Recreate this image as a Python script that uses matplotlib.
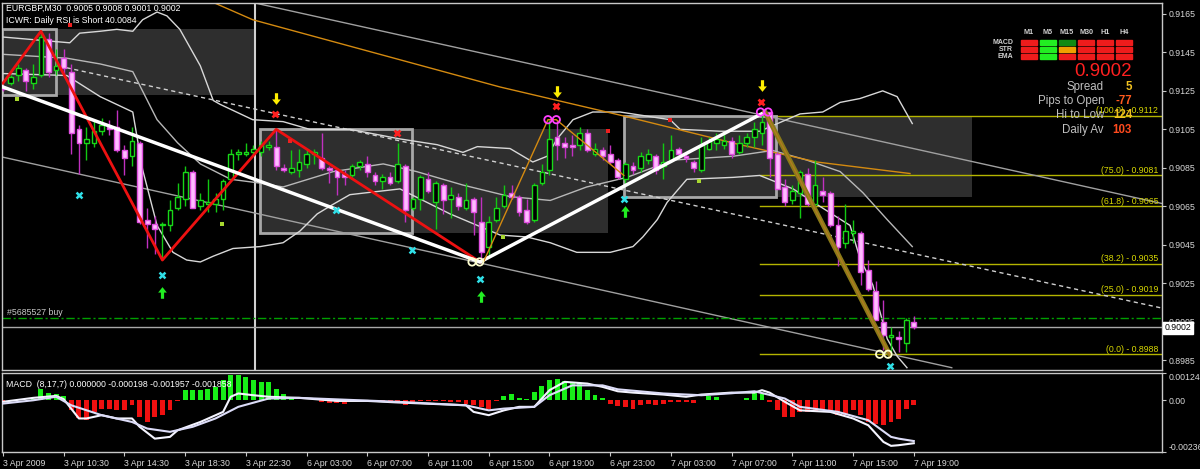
import numpy as np
import matplotlib
matplotlib.use('Agg')
import matplotlib.pyplot as plt
from matplotlib.patches import Rectangle
from matplotlib.path import Path

plt.rcParams['font.family'] = ['Liberation Sans', 'DejaVu Sans']

# ---- EURGBP M30 candles (bar index 0 = 3 Apr 06:30) ----
opens = [0.9127,0.9129,0.9133,0.9136,0.9129,0.9133,0.9152,0.9136,0.9142,0.9135,
         0.9105,0.9098,0.9098,0.9104,0.9106,0.9106,0.9094,0.9091,0.9098,0.9058,
         0.9056,0.9055,0.9055,0.9064,0.9069,0.9083,0.9065,0.9066,0.9066,0.9069,
         0.9079,0.9092,0.9092,0.9093,0.9093,0.9096,0.9096,0.9085,0.9083,0.9084,
         0.9087,0.9092,0.9090,0.9085,0.9084,0.9082,0.9081,0.9086,0.9087,0.9081,
         0.9078,0.9080,0.9078,0.9086,0.9064,0.9069,0.9079,0.9067,0.9076,0.9069,
         0.9070,0.9064,0.9069,0.9057,0.9044,0.9058,0.9065,0.9072,0.9070,0.9063,
         0.9058,0.9077,0.9084,0.9101,0.9098,0.9097,0.9097,0.9103,0.9092,0.9094,
         0.9092,0.9089,0.9079,0.9086,0.9085,0.9089,0.9091,0.9086,0.9089,0.9095,
         0.9091,0.9088,0.9084,0.9095,0.9098,0.9097,0.9099,0.9093,0.9098,0.9101,
         0.9103,0.9114,0.9092,0.9075,0.9068,0.9072,0.9082,0.9066,0.9073,0.9072,
         0.9055,0.9046,0.9051,0.9051,0.9032,0.9021,0.9005,0.8997,0.8997,0.8994,
         0.9005]
highs = [0.9128,0.9133,0.9139,0.9137,0.9139,0.9156,0.9155,0.9147,0.9147,0.9139,
         0.9107,0.9106,0.9110,0.9111,0.9110,0.9115,0.9097,0.9106,0.9099,0.9064,
         0.9060,0.9057,0.9068,0.9077,0.9086,0.9084,0.9072,0.9079,0.9072,0.9079,
         0.9095,0.9095,0.9098,0.9097,0.9099,0.9099,0.9105,0.9087,0.9094,0.9095,
         0.9094,0.9095,0.9103,0.9086,0.9085,0.9084,0.9087,0.9089,0.9091,0.9083,
         0.9082,0.9083,0.9098,0.9087,0.9070,0.9081,0.9083,0.9078,0.9077,0.9075,
         0.9072,0.9077,0.9070,0.9070,0.9060,0.9070,0.9076,0.9076,0.9071,0.9069,
         0.9077,0.9087,0.9110,0.9110,0.9101,0.9102,0.9106,0.9105,0.9098,0.9096,
         0.9097,0.9090,0.9088,0.9088,0.9093,0.9095,0.9092,0.9098,0.9102,0.9096,
         0.9093,0.9089,0.9101,0.9101,0.9103,0.9103,0.9101,0.9102,0.9103,0.9109,
         0.9114,0.9114,0.9093,0.9079,0.9076,0.9084,0.9085,0.9089,0.9080,0.9073,
         0.9060,0.9066,0.9058,0.9052,0.9037,0.9026,0.9016,0.9002,0.9000,0.9007,
         0.9008]
lows = [0.9125,0.9128,0.9130,0.9125,0.9126,0.9132,0.9132,0.9133,0.9134,0.9092,
        0.9082,0.9089,0.9096,0.9102,0.9102,0.9093,0.9081,0.9086,0.9056,0.9043,
        0.9040,0.9037,0.9052,0.9063,0.9065,0.9064,0.9063,0.9062,0.9062,0.9063,
        0.9078,0.9089,0.9091,0.9091,0.9091,0.9094,0.9084,0.9083,0.9082,0.9080,
        0.9085,0.9087,0.9084,0.9077,0.9071,0.9076,0.9080,0.9084,0.9080,0.9076,
        0.9074,0.9076,0.9077,0.9057,0.9063,0.9063,0.9072,0.9053,0.9061,0.9059,
        0.9063,0.9063,0.9050,0.9036,0.9039,0.9057,0.9064,0.9069,0.9060,0.9056,
        0.9057,0.9076,0.9081,0.9089,0.9090,0.9091,0.9094,0.9093,0.9091,0.9089,
        0.9087,0.9079,0.9077,0.9082,0.9083,0.9087,0.9082,0.9079,0.9088,0.9090,
        0.9088,0.9083,0.9083,0.9094,0.9094,0.9095,0.9090,0.9092,0.9096,0.9096,
        0.9097,0.9080,0.9074,0.9065,0.9066,0.9059,0.9065,0.9063,0.9067,0.9054,
        0.9034,0.9043,0.9046,0.9024,0.9021,0.9006,0.8990,0.8988,0.8989,0.8989,
        0.9001]
closes = [0.9126,0.9132,0.9137,0.9130,0.9132,0.9153,0.9135,0.9138,0.9137,0.9103,
          0.9098,0.9100,0.9104,0.9107,0.9105,0.9094,0.9090,0.9099,0.9057,0.9056,
          0.9053,0.9056,0.9063,0.9070,0.9083,0.9064,0.9068,0.9067,0.9069,0.9078,
          0.9092,0.9093,0.9093,0.9095,0.9097,0.9097,0.9086,0.9084,0.9085,0.9088,
          0.9092,0.9093,0.9085,0.9084,0.9080,0.9080,0.9086,0.9088,0.9083,0.9078,
          0.9080,0.9077,0.9087,0.9063,0.9069,0.9080,0.9073,0.9077,0.9068,0.9071,
          0.9065,0.9068,0.9062,0.9041,0.9057,0.9064,0.9071,0.9070,0.9062,0.9057,
          0.9076,0.9083,0.9100,0.9097,0.9096,0.9096,0.9103,0.9094,0.9095,0.9091,
          0.9088,0.9080,0.9087,0.9084,0.9091,0.9092,0.9084,0.9088,0.9094,0.9092,
          0.9090,0.9085,0.9097,0.9099,0.9100,0.9099,0.9092,0.9098,0.9101,0.9105,
          0.9109,0.9090,0.9074,0.9067,0.9073,0.9083,0.9066,0.9076,0.9071,0.9055,
          0.9044,0.9052,0.9052,0.9031,0.9022,0.9006,0.8998,0.8998,0.8996,0.9006,
          0.9002]

time_labels = ['3 Apr 2009', '3 Apr 10:30', '3 Apr 14:30', '3 Apr 18:30', '3 Apr 22:30',
               '6 Apr 03:00', '6 Apr 07:00', '6 Apr 11:00', '6 Apr 15:00', '6 Apr 19:00',
               '6 Apr 23:00', '7 Apr 03:00', '7 Apr 07:00', '7 Apr 11:00', '7 Apr 15:00',
               '7 Apr 19:00']
price_ticks = [0.9165, 0.9145, 0.9125, 0.9105, 0.9085, 0.9065, 0.9045, 0.9025, 0.9005, 0.8985]

# Bollinger bands (bar, price)
bb_up_x = [0, 8.8, 10.1, 12.8, 15.0, 17.1, 18.4, 20.3, 21.6, 23.3, 26.0, 27.7, 28.6, 32.9, 36.9, 40.4,
           45.7, 52.3, 57.2, 60.6, 62.5, 66.8, 69.8, 71.7, 73.0, 75.1, 77.7, 81.3, 87.9, 89.2, 94.5,
           99.7, 105.0, 108.0, 110.3, 112.9, 115.9, 117.8, 119.8]
bb_up_y = [0.9153, 0.9150, 0.9155, 0.9156, 0.9157, 0.9156, 0.9162, 0.9166, 0.9164, 0.9157, 0.9138, 0.9120,
           0.9118, 0.9110, 0.9109, 0.9105, 0.9105, 0.9100, 0.9097, 0.9093, 0.9096, 0.9095, 0.9088,
           0.9091, 0.9100, 0.9110, 0.9114, 0.9114, 0.9110, 0.9105, 0.9104, 0.9104, 0.9113, 0.9114,
           0.9119, 0.9121, 0.9125, 0.9122, 0.9108]
bb_mid_x = [0, 8.4, 12.8, 17.1, 20.3, 23.0, 26.0, 30.0, 33.9, 36.9, 43.5, 50.1, 54.5, 60.6, 66.8, 72.1,
            76.9, 82.2, 88.3, 96.2, 101.4, 105.9, 110.3, 113.3, 116.5, 119.8]
bb_mid_y = [0.9144, 0.9142, 0.9139, 0.9135, 0.9110, 0.9098, 0.9087, 0.9079, 0.9077, 0.9075, 0.9083,
            0.9087, 0.9083, 0.9076, 0.9070, 0.9068, 0.9075, 0.9080, 0.9089, 0.9091, 0.9094, 0.9089,
            0.9083, 0.9072, 0.9058, 0.9044]
bb_lo_x = [0, 8.4, 12.8, 17.1, 18.4, 20.3, 22.4, 24.2, 26.0, 27.7, 30.3, 33.9, 36.9, 39.1, 41.4,
           43.5, 45.7, 52.3, 58.9, 65.5, 69.0, 72.1, 75.6, 80.0, 83.0, 84.3, 86.2, 87.5, 90.1, 96.2,
           99.7, 104.1, 107.6, 111.6, 112.9, 114.6, 116.5, 117.8, 119.1]
bb_lo_y = [0.9134, 0.9133, 0.9122, 0.9114, 0.9084, 0.9055, 0.9041, 0.9037, 0.9036, 0.9039, 0.9043,
           0.9044, 0.9046, 0.9052, 0.9061, 0.9066, 0.9071, 0.9074, 0.9061, 0.9050, 0.9049, 0.9046,
           0.9041, 0.9041, 0.9044, 0.9049, 0.9058, 0.9067, 0.9079, 0.9080, 0.9081, 0.9074, 0.9065,
           0.9055, 0.9038, 0.9024, 0.8996, 0.8987, 0.8981]

ma_x = [27.7, 32.9, 65.5, 81.7, 97.1, 107.2, 119.5]
ma_y = [0.9171, 0.9162, 0.9127, 0.9112, 0.9097, 0.9088, 0.9082]

# drawn objects
chan_a_x, chan_a_y = [33.2, 152.7], [0.91707, 0.90664]
chan_b_x, chan_b_y = [0, 125], [0.90905, 0.89810]
dash_x, dash_y = [8.4, 152.7], [0.9137, 0.9012]
zz_white_x, zz_white_y = [0, 62.85, 100.4], [0.9127, 0.9036, 0.9114]
zz_olive_x, zz_olive_y = [100.4, 116.8], [0.9114, 0.8988]
zz_red_x, zz_red_y = [0, 5, 21, 36, 62.85], [0.9129, 0.9156, 0.9037, 0.9105, 0.9036]
zz_orange_x, zz_orange_y = [63.3, 71.8, 72.9, 81.8], [0.9036, 0.9110, 0.9110, 0.9081]
vline_bar = 33.2

box_start = [-0.13, 33.9, 81.8]
box_end = [7.0, 53.9, 101.8]
ext_end = [33.2, 79.7, 127.7]
box_top = [0.9157, 0.9105, 0.9112]
box_bot = [0.9123, 0.9051, 0.9070]

fib_start = 99.8
fib_levels = [0.9112, 0.9081, 0.9065, 0.9035, 0.9019, 0.8988]
fib_labels = ['(100.0) - 0.9112', '(75.0) - 0.9081', '(61.8) - 0.9065',
              '(38.2) - 0.9035', '(25.0) - 0.9019', '(0.0) - 0.8988']
order_price = 0.9007
bid_price = 0.9002

down_x, down_y = [36, 73, 100], [0.9120, 0.9124, 0.9127]
up_x, up_y = [21, 63, 82], [0.9021, 0.9019, 0.9063]
redx_x, redx_y = [35.8, 72.9, 99.9, 51.9], [0.9113, 0.9117, 0.9119, 0.9103]
cyan_x, cyan_y = [10, 21, 43.9, 53.9, 62.8, 81.8, 116.9], [0.9071, 0.9029, 0.9063, 0.9042, 0.9027, 0.9069, 0.8982]
wcirc_x, wcirc_y = [61.8, 62.8, 115.5, 116.6], [0.9036, 0.9036, 0.8988, 0.8988]
mcirc_x, mcirc_y = [71.8, 72.9, 99.8, 100.8], [0.9110, 0.9110, 0.9114, 0.9114]
lime_x, lime_y = [1.8, 28.9, 65.9, 91.7], [0.9121, 0.9056, 0.9049, 0.9078]
reddot_x, reddot_y = [8.8, 37.8, 79.7, 87.9], [0.9159, 0.9099, 0.9104, 0.9110]

# MACD (8,17,7)
hist = [-0.00003,-0.00002,0.00005,0.00003,0.00005,0.0005,0.00035,0.0003,0.0002,-0.00046,
        -0.0008,-0.00091,-0.00053,-0.00038,-0.00038,-0.00046,-0.00046,-0.00023,-0.00076,-0.00099,
        -0.00076,-0.00068,-0.00046,-0.00003,0.00046,0.00046,0.00046,0.0005,0.0006,0.00091,
        0.00114,0.00114,0.00106,0.00091,0.00084,0.00084,0.00053,0.0003,0.00005,0.00003,
        0.00003,0.00003,-0.00008,-0.00012,-0.00012,-0.00018,-0.00005,-0.00005,-0.00005,-0.00004,
        -0.00004,-0.00005,-0.00008,-0.00023,-0.00008,-0.00005,-0.00005,-0.00005,-0.00005,-0.00008,
        -0.00008,-0.00015,-0.00023,-0.0003,-0.00038,-0.00005,0.00018,0.0003,0.00011,0.00005,
        0.0004,0.00064,0.00094,0.00097,0.00087,0.0008,0.00078,0.00046,0.00026,0.0001,
        -0.00015,-0.00026,-0.0003,-0.00038,-0.00023,-0.00015,-0.00023,-0.00015,-0.00008,-0.00008,
        -0.00008,-0.00012,0.00003,0.00018,0.00015,0.00003,0.00003,0.00003,0.0001,0.00034,
        0.0003,-0.00008,-0.00046,-0.00076,-0.00076,-0.00053,-0.00053,-0.00053,-0.00046,-0.00053,
        -0.00068,-0.00068,-0.00046,-0.00068,-0.00099,-0.00106,-0.00114,-0.00099,-0.00084,-0.00038,
        -0.0002]
macd_x = [0, 4, 7, 8, 10, 11, 13, 15, 17, 18, 20, 22, 23, 26, 29, 30, 31, 33, 35, 39, 44, 48, 52,
          61, 62, 64, 66, 68, 70, 72, 74, 77, 79, 81, 83, 87, 90, 92, 96, 99, 100, 101, 103, 105,
          109, 112, 114, 116, 117, 118, 120]
macd_y = [-0.00007, 0.00011, 0.0002, 0.00005, -0.00083, -0.00083, -0.00068, -0.00083, -0.00083,
          -0.00121, -0.00175, -0.00167, -0.00137, -0.00099, -0.00053, 0.00016, 0.00031, 0.00023,
          0.00016, 0.00011, -0.00003, -0.00003, -0.0001, -0.00023, -0.00053, -0.00068, -0.00046,
          -0.0003, -0.0003, 0.00046, 0.00084, 0.00076, 0.00061, 0.00041, 0.00035, 0.00026, 0.00016,
          0.00026, 0.00035, 0.00035, 0.00046, 0.00035, -0.00007, -0.00046, -0.00053, -0.00083,
          -0.00114, -0.0019, -0.00208, -0.00205, -0.00196]
sig_x = [0, 4, 7, 9, 13, 17, 19, 22, 25, 28, 31, 35, 39, 52, 61, 64, 66, 70, 72, 75, 79, 81, 87,
         92, 96, 99, 103, 105, 110, 114, 117, 118, 120]
sig_y = [-0.00015, 0.0, 0.00016, -0.00023, -0.00068, -0.00099, -0.00129, -0.00144, -0.00121,
         -0.00083, -0.0003, 0.00008, 0.00011, -0.00007, -0.00023, -0.00046, -0.00038, -0.0003,
         0.00023, 0.00068, 0.00068, 0.0005, 0.00031, 0.00023, 0.00032, 0.00041, 0.00008, -0.0003,
         -0.00053, -0.00091, -0.00167, -0.00175, -0.00186]

# dashboard
tf_names = ['M1', 'M5', 'M15', 'M30', 'H1', 'H4']
row_names = ['MACD', 'STR', 'EMA']
signal_colors = [['#ee1c1c', '#22ee22', '#138a13', '#ee1c1c', '#ee1c1c', '#ee1c1c'],
                 ['#ee1c1c', '#22ee22', '#f0a000', '#ee1c1c', '#ee1c1c', '#ee1c1c'],
                 ['#ee1c1c', '#22ee22', '#ee1c1c', '#ee1c1c', '#ee1c1c', '#ee1c1c']]
info_names = ['Spread', 'Pips to Open', 'Hi to Low', 'Daily Av']
info_values = ['5', '-77', '124', '103']
info_colors = ['#f0c020', '#ff5a1e', '#f0c020', '#ff4a1e']

# ---------------- figure ----------------
W, H = 1200, 469
fig = plt.figure(figsize=(12, 4.69), dpi=100, facecolor='black')


def prect(x0, y0, x1, y1):
    return [x0 / W, 1 - y1 / H, (x1 - x0) / W, (y1 - y0) / H]


ax = fig.add_axes(prect(2, 3, 1162, 370))
axm = fig.add_axes(prect(2, 373, 1162, 452))
XL = (-0.13, 152.7)
fg = '#d8d8d8'
small = 6.3

for a in (ax, axm):
    a.set_facecolor('black')
    a.set_xlim(*XL)
    for s in a.spines.values():
        s.set_color('#c8c8c8')
        s.set_linewidth(1)
    a.yaxis.tick_right()
    a.tick_params(axis='y', colors='#c8c8c8', labelcolor=fg, labelsize=small, length=3, pad=2)

ax.set_ylim(0.89798, 0.91707)
ax.set_xticks([])
ax.set_yticks(price_ticks)
ax.set_yticklabels(['%.4f' % t for t in price_ticks])

# range boxes
for s, e, x2, t, b in zip(box_start, box_end, ext_end, box_top, box_bot):
    ax.add_patch(Rectangle((s, b), x2 - s, t - b, facecolor='#2e2e2e', edgecolor='none', zorder=0.5))
    ax.add_patch(Rectangle((s, b), e - s, t - b, facecolor='none', edgecolor='#a8a8a8', lw=2, zorder=1.2))

ax.axvline(vline_bar, color='#d0d0d0', lw=1.5, zorder=1)

# channel, dashed line, bands, MA
ax.plot(chan_a_x, chan_a_y, color='#a0a0a0', lw=1, zorder=1.5)
ax.plot(chan_b_x, chan_b_y, color='#a0a0a0', lw=1, zorder=1.5)
ax.plot(dash_x, dash_y, color='#d0d0d0', lw=1, ls=(0, (3, 2.5)), zorder=1.5)
ax.plot(bb_up_x, bb_up_y, color='#d8d8d8', lw=1, zorder=1.6)
ax.plot(bb_mid_x, bb_mid_y, color='#b8b8b8', lw=1, zorder=1.6)
ax.plot(bb_lo_x, bb_lo_y, color='#d8d8d8', lw=1, zorder=1.6)
ax.plot(ma_x, ma_y, color='#d48a10', lw=1, zorder=1.6)

# fibonacci
for lev, lab in zip(fib_levels, fib_labels):
    ax.plot([fib_start, XL[1]], [lev, lev], color='#b4b400', lw=1, zorder=1.1)
    ax.text(152.2, lev + 0.00003, lab, color='#d8d800', fontsize=small, ha='right', va='bottom', zorder=6)

ax.axhline(order_price, color='#00a000', lw=1, ls=(0, (6, 2, 1.5, 2)), zorder=1.7)
ax.axhline(bid_price, color='#a8a8a8', lw=1, zorder=1.7)
ax.text(0.004, order_price + 0.00006, '#5685527 buy', transform=ax.get_yaxis_transform(),
        color='#c8c8c8', fontsize=small, va='bottom', ha='left')

# candles
idx = np.arange(len(opens))
o, h, l, c = map(np.array, (opens, highs, lows, closes))
bull = c >= o
bw = 0.62
ax.vlines(idx[bull], l[bull], h[bull], color='#12c812', lw=1, zorder=3)
ax.vlines(idx[~bull], l[~bull], h[~bull], color='#c030c0', lw=1, zorder=3)
body_lo = np.minimum(o, c)
body_h = np.maximum(np.abs(c - o), 0.00004)
ax.bar(idx[bull], body_h[bull], bottom=body_lo[bull], width=bw, color='black',
       edgecolor='#18d818', lw=1, zorder=3.5)
ax.bar(idx[~bull], body_h[~bull], bottom=body_lo[~bull], width=bw, color='#ffbcff',
       edgecolor='#e050e0', lw=1, zorder=3.5)

# zigzags
ax.plot(zz_red_x, zz_red_y, color='#ee1111', lw=2, zorder=4)
ax.plot(zz_white_x, zz_white_y, color='white', lw=2.5, zorder=4)
ax.plot(zz_olive_x, zz_olive_y, color='#8a7a18', lw=3.5, zorder=4)
ax.plot(zz_olive_x, zz_olive_y, color='#b07a20', lw=1, zorder=4.1)
ax.plot(zz_orange_x, zz_orange_y, color='#d48a10', lw=1, zorder=4)

# markers
dn = Path([(-0.22, 1), (0.22, 1), (0.22, 0.15), (0.6, 0.15), (0, -0.6), (-0.6, 0.15), (-0.22, 0.15), (-0.22, 1)])
upa = Path([(x, -y) for x, y in dn.vertices])
ax.scatter(down_x, down_y, marker=dn, s=110, color='#ffee00', zorder=5, linewidths=0)
ax.scatter(up_x, up_y, marker=upa, s=110, color='#22ee22', zorder=5, linewidths=0)
ax.scatter(redx_x, redx_y, marker='x', s=18, color='#ff2020', linewidths=2, zorder=5)
ax.scatter(cyan_x, cyan_y, marker='x', s=18, color='#30e0e8', linewidths=1.8, zorder=5)
ax.scatter(wcirc_x, wcirc_y, marker='o', s=28, facecolor='none', edgecolor='#ffffd0', linewidths=1.3, zorder=5)
ax.scatter(mcirc_x, mcirc_y, marker='o', s=28, facecolor='none', edgecolor='#ff40ff', linewidths=1.3, zorder=5)
ax.scatter(lime_x, lime_y, marker='s', s=5, color='#a8d830', linewidths=0, zorder=5)
ax.scatter(reddot_x, reddot_y, marker='s', s=6, color='#ee2020', linewidths=0, zorder=5)

ax.text(0.0035, 0.985, 'EURGBP,M30  0.9005 0.9008 0.9001 0.9002', transform=ax.transAxes,
        color='white', fontsize=small, va='center', ha='left', zorder=7)
ax.text(0.0035, 0.952, 'ICWR: Daily RSI is Short 40.0084', transform=ax.transAxes,
        color='white', fontsize=small, va='center', ha='left', zorder=7)

# bid price box on the axis
fig.text(1165 / W, 1 - 328 / H, '0.9002', color='black', fontsize=small, va='center', ha='left',
         bbox=dict(facecolor='white', edgecolor='white', pad=1.2))

# ---------------- MACD panel ----------------
hv = np.array(hist)
axm.set_ylim(-0.00236, 0.001244)
axm.bar(idx, hv, width=0.65, color=np.where(hv >= 0, '#18ee18', '#ee1010'), zorder=2)
axm.plot(macd_x, macd_y, color='#f4f4ff', lw=1.5, zorder=3)
axm.plot(sig_x, sig_y, color='#dcdcf8', lw=1.5, zorder=3)
axm.set_yticks([0.001244, 0.0, -0.00236])
axm.set_yticklabels(['0.001244', '0.00', '-0.00236'])
tl = axm.get_yticklabels()
tl[0].set_va('top')
tl[2].set_va('bottom')
axm.set_xticks(np.arange(0, 121, 8))
axm.set_xticklabels(time_labels, ha='left')
axm.tick_params(axis='x', colors='#c8c8c8', labelcolor=fg, labelsize=small, length=3, pad=2)
axm.text(0.0035, 0.86, 'MACD  (8,17,7) 0.000000 -0.000198 -0.001957 -0.001858', transform=axm.transAxes,
         color='white', fontsize=small, va='center', ha='left', zorder=7)

# ---------------- dashboard ----------------
col_x = [1029, 1048, 1067, 1086, 1105, 1124]
row_y = [42.3, 49.3, 56.7]
for name, cx in zip(tf_names, col_x):
    fig.text(cx / W, 1 - 32 / H, name, color='#d0d0d0', fontsize=5.2, fontweight='bold', ha='center', va='center')
for r, (name, ry) in enumerate(zip(row_names, row_y)):
    fig.text(1013 / W, 1 - ry / H, name, color='#d0d0d0', fontsize=5, fontweight='bold', ha='right', va='center')
    for k, cx in enumerate(col_x):
        fig.patches.append(Rectangle(((cx - 8) / W, 1 - (ry + 2.4) / H), 16 / W, 4.8 / H,
                                     transform=fig.transFigure, color=signal_colors[r][k]))
fig.text(1132 / W, 1 - 71 / H, '0.9002', color='#ff2020', fontsize=13.5, ha='right', va='center')
for k, (nm, val, colr) in enumerate(zip(info_names, info_values, info_colors)):
    yy = 87 + k * 14.2
    fig.text(1104 / W, 1 - yy / H, nm, color='#c0c0c0', fontsize=8.3, ha='right', va='center')
    fig.text(1132 / W, 1 - yy / H, val, color=colr, fontsize=8.3, fontweight='bold', ha='right', va='center')

fig.savefig('out.png', dpi=100, facecolor='black')
